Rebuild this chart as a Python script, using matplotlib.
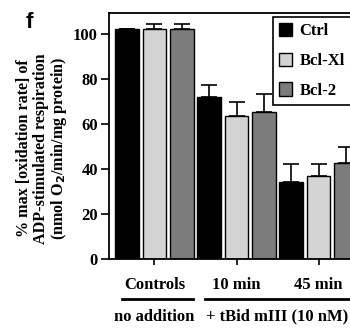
import matplotlib

matplotlib.use("Agg")
import matplotlib.pyplot as plt
import matplotlib.transforms as mtransforms

# values
groups = ["Controls", "10 min", "45 min"]
series = ["Ctrl", "Bcl-Xl", "Bcl-2"]
colors = ["#000000", "#d4d4d4", "#7c7c7c"]
means = {
    "Ctrl": [102.0, 72.0, 34.4],
    "Bcl-Xl": [102.0, 63.6, 37.0],
    "Bcl-2": [102.0, 65.4, 42.5],
}
errors = {
    "Ctrl": [0.0, 5.2, 7.6],
    "Bcl-Xl": [2.6, 6.2, 5.0],
    "Bcl-2": [2.6, 7.7, 7.3],
}
yticks = [0, 20, 40, 60, 80, 100]

plt.rcParams["font.family"] = ["Liberation Serif", "DejaVu Serif"]
plt.rcParams["font.weight"] = "bold"
plt.rcParams["axes.labelweight"] = "bold"

fig = plt.figure(figsize=(3.5, 3.29), dpi=100)
ax = fig.add_axes([109 / 350, 70 / 329, 255 / 350, 246 / 329])

n = len(series)
for j, name in enumerate(series):
    xs = [g * n + j for g in range(len(groups))]
    ax.bar(xs, means[name], width=0.86, color=colors[j], edgecolor="black",
           linewidth=1.0, label=name, zorder=2)
    ax.errorbar(xs, means[name], yerr=[[0] * len(xs), errors[name]], fmt="none",
                ecolor="black", elinewidth=1.2, capsize=6, capthick=1.2, zorder=1)

ax.set_xlim(-0.66, 8.66)
ax.set_ylim(0, 109.3)
ax.set_yticks(yticks)
ax.set_xticks([g * n + 1 for g in range(len(groups))])
ax.set_xticklabels(groups)
ax.tick_params(axis="both", labelsize=12, width=1.2, direction="out")
ax.tick_params(axis="y", length=6, pad=2)
ax.tick_params(axis="x", length=4, pad=9)
for s in ax.spines.values():
    s.set_linewidth(1.3)

ax.set_ylabel("% max [oxidation rate] of\nADP-stimulated respiration\n(nmol O$_\\mathbf{2}$/min/mg protein)",
              fontsize=11.6, fontweight="bold", linespacing=1.05)
ax.yaxis.set_label_coords(-0.155, 0.45)

leg = ax.legend(loc="upper left", bbox_to_anchor=(273 / 350, 1 - 17 / 329),
                bbox_transform=fig.transFigure, borderaxespad=0, fontsize=12,
                frameon=True, fancybox=False, edgecolor="black", framealpha=1,
                handlelength=0.8, handleheight=0.85, handletextpad=0.45,
                labelspacing=0.8, borderpad=0.35)
leg.get_frame().set_linewidth(1.2)

# group brackets under the axis
trans = mtransforms.blended_transform_factory(ax.transData, fig.transFigure)
ax.plot([-0.19, 2.4], [0.091, 0.091], color="black", lw=2, transform=trans, clip_on=False)
ax.plot([2.85, 8.15], [0.091, 0.091], color="black", lw=2, transform=trans, clip_on=False)
ax.text(1.0, 0.037, "no addition", transform=trans, ha="center", va="center", fontsize=12)
ax.text(5.5, 0.037, "+ tBid mIII (10 nM)", transform=trans, ha="center", va="center", fontsize=12)

fig.text(29 / 350, 1 - 22 / 329, "f", family="Liberation Sans", fontweight="bold",
         fontsize=16, ha="center", va="center")

fig.savefig("out.png", dpi=100)
